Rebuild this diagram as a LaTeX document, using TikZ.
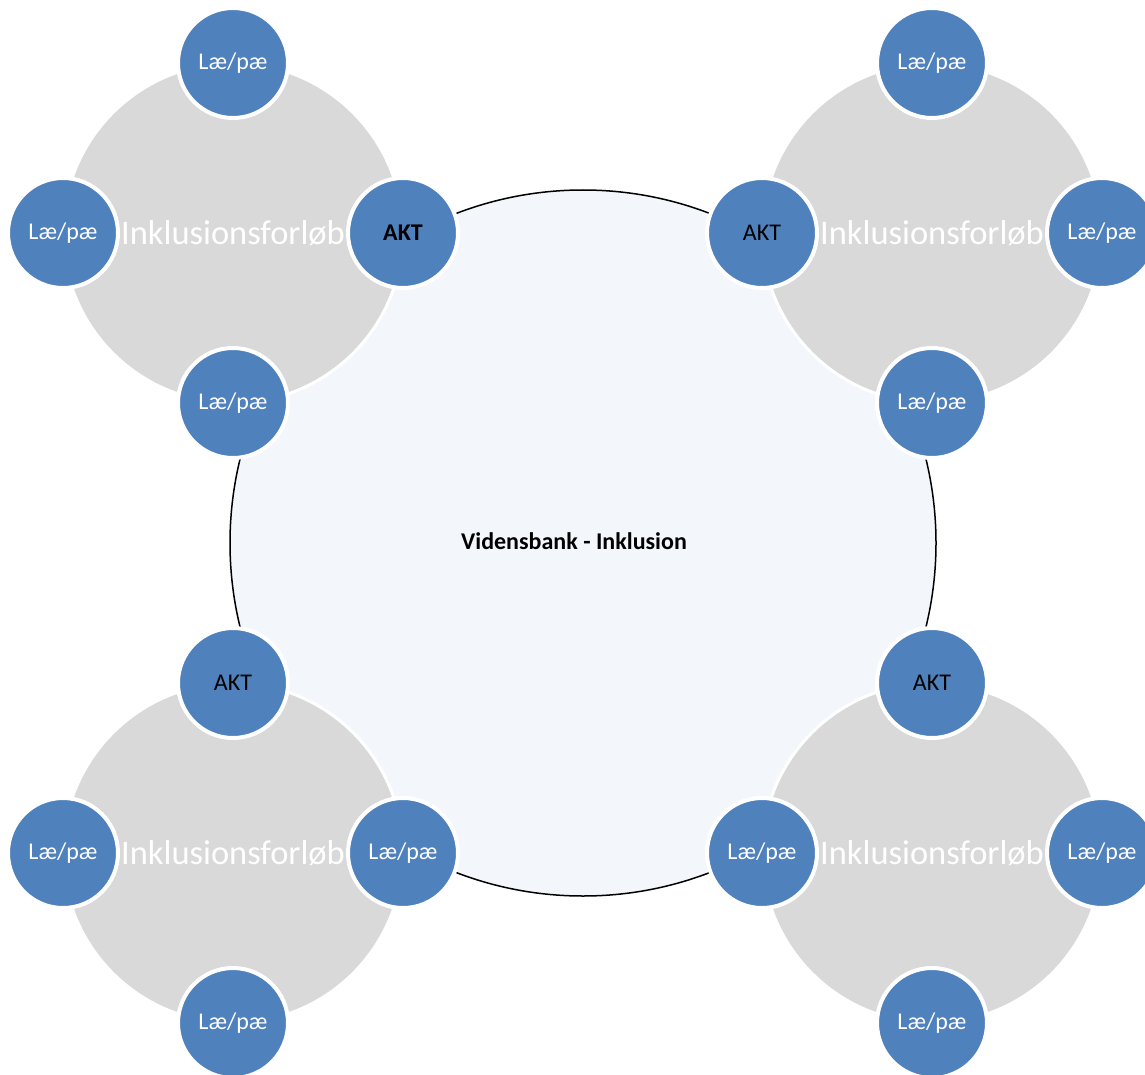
\documentclass[tikz,border=0pt]{standalone}
\usepackage{fontspec}
\setmainfont{Carlito}
\definecolor{blu}{RGB}{79,129,189}
\definecolor{gry}{RGB}{217,217,217}
\definecolor{pale}{RGB}{243,247,251}
\begin{document}
\begin{tikzpicture}[x=1pt,y=-1pt,
 hub/.style={circle,fill=pale,draw=black,line width=1.5pt,minimum size=706pt,inner sep=0pt},
 group/.style={circle,fill=gry,draw=white,line width=3pt,minimum size=340pt,inner sep=0pt,text=white,font=\fontsize{34.5}{40}\selectfont},
 member/.style={circle,fill=blu,draw=white,line width=4pt,minimum size=110pt,inner sep=0pt,text=white,font=\fontsize{24}{28}\selectfont},
 akt/.style={member,text=black},
 title/.style={font=\fontsize{24}{28}\selectfont\bfseries,text=black}]
\useasboundingbox (0,0) rectangle (1145,1075);
\node[hub] (hub) at (583,543) {};
\node[title] (t) at (574,541) {Vidensbank - Inklusion};
% groups
\node[group] (g1) at (233,233) {Inklusionsforløb};
\node[group] (g2) at (932,233) {Inklusionsforløb};
\node[group] (g3) at (233,853) {Inklusionsforløb};
\node[group] (g4) at (932,853) {Inklusionsforløb};
% top-left
\node[member] (a1) at (233,63) {Læ/pæ};
\node[member] (a2) at (63,233) {Læ/pæ};
\node[akt,font=\fontsize{24}{28}\selectfont\bfseries] (a3) at (403,233) {AKT};
\node[member] (a4) at (233,403) {Læ/pæ};
% top-right
\node[member] (b1) at (932,63) {Læ/pæ};
\node[akt] (b2) at (762,233) {AKT};
\node[member] (b3) at (1102,233) {Læ/pæ};
\node[member] (b4) at (932,403) {Læ/pæ};
% bottom-left
\node[akt] (c1) at (233,683) {AKT};
\node[member] (c2) at (63,853) {Læ/pæ};
\node[member] (c3) at (403,853) {Læ/pæ};
\node[member] (c4) at (233,1023) {Læ/pæ};
% bottom-right
\node[akt] (d1) at (932,683) {AKT};
\node[member] (d2) at (762,853) {Læ/pæ};
\node[member] (d3) at (1102,853) {Læ/pæ};
\node[member] (d4) at (932,1023) {Læ/pæ};
\end{tikzpicture}
\end{document}
